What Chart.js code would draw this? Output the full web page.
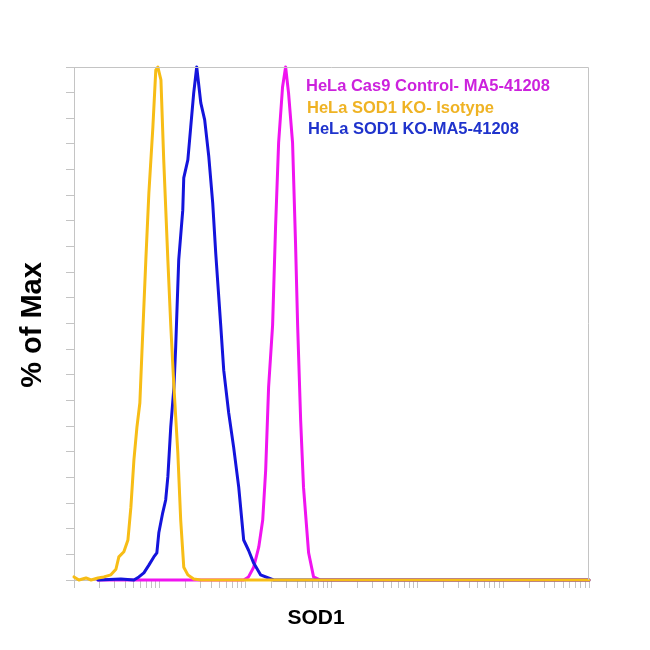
<!DOCTYPE html>
<html>
<head>
<meta charset="utf-8">
<script src="https://cdn.jsdelivr.net/npm/chart.js@4/dist/chart.umd.min.js"></script>
<style>
  html, body { margin: 0; padding: 0; background: #fff; }
  #wrap { width: 650px; height: 650px; }
</style>
</head>
<body>
<div id="wrap"><canvas id="c1" width="650" height="650"></canvas></div>
<script>
// histogram traces (SOD1 intensity, % of max)
const yellowX = [1, 1.14, 1.38, 1.58, 1.9, 2.23, 2.69, 3.08, 3.33, 3.81, 4.25, 4.6, 4.99, 5.41, 5.85, 6.18, 6.87, 7.45, 8.3, 8.97, 9.48, 10.3, 11.1, 12.4, 13.4, 14.6, 16.2, 17.5, 19.0, 21.2, 24.8, 30, 1e6];
const yellowY = [0.6, 0, 0.4, 0, 0.4, 0.6, 1.0, 2.1, 4.5, 5.5, 7.8, 14.2, 23.4, 29.8, 34.5, 44.2, 62.4, 75.4, 88.3, 99.4, 100, 97.5, 81.9, 62.4, 49.7, 37.6, 24.8, 11.7, 2.5, 1.0, 0.2, 0, 0];

const blueX = [1.9, 3.52, 4.99, 5.7, 6.52, 7.45, 8.51, 9.23, 9.73, 10.8, 11.7, 12.4, 13.4, 14.6, 15.3, 16.6, 18.5, 19.0, 21.2, 22.9, 24.8, 26.9, 30, 33.3, 37.2, 41.3, 44.8, 51.2, 55.5, 63.4, 72.4, 83, 94.8, 108, 124, 149, 212, 1e6];
const blueY = [0, 0.2, 0, 0.6, 1.4, 2.9, 4.5, 5.3, 9.2, 13.1, 15.6, 20.1, 29.8, 37.6, 45.4, 62.4, 72.1, 78.4, 81.9, 88.3, 94.9, 100, 93, 89.7, 82.5, 73.5, 63.7, 49.7, 40.9, 32.6, 25.9, 18.1, 7.8, 5.8, 3.3, 1.0, 0, 0];

const magentaX = [1.9, 94.8, 108, 124, 142, 158, 171, 185, 206, 223, 242, 269, 292, 316, 352, 381, 403, 437, 472, 541, 618, 745, 1e6];
const magentaY = [0, 0, 0.6, 2.5, 6.4, 11.7, 21.4, 37.6, 49.7, 68.8, 85.2, 96.1, 100, 94.9, 85.2, 65.7, 49.7, 31.2, 18.1, 5.3, 0.6, 0, 0];

const seriesNames = ['HeLa Cas9 Control- MA5-41208', 'HeLa SOD1 KO- Isotype', 'HeLa SOD1 KO-MA5-41208'];
const xDecades = [1, 10, 100, 1000, 10000, 100000, 1000000];
const minorSteps = [2, 3, 4, 5, 6, 7, 8, 9];
const yTickStep = 5;

const FONT = '"Liberation Sans", Arial, sans-serif';
const GREY = '#c4c4c4';

const pts = (xs, ys) => xs.map((x, i) => ({ x: x, y: ys[i] }));

// frame, axis titles and the text legend
const decor = {
  id: 'decor',
  afterDraw(chart) {
    const ctx = chart.ctx;
    const a = chart.chartArea;
    ctx.save();
    ctx.strokeStyle = GREY;
    ctx.lineWidth = 1;
    ctx.beginPath();
    ctx.moveTo(a.left, a.top + 0.5);
    ctx.lineTo(a.right - 0.5, a.top + 0.5);
    ctx.lineTo(a.right - 0.5, a.bottom);
    ctx.stroke();

    ctx.fillStyle = '#000';
    ctx.font = 'bold 21px ' + FONT;
    ctx.textAlign = 'center';
    ctx.textBaseline = 'middle';
    ctx.fillText('SOD1', 316, 618);

    ctx.translate(33, 325);
    ctx.rotate(-Math.PI / 2);
    ctx.font = 'bold 29px ' + FONT;
    ctx.fillText('% of Max', 0, 0);
    ctx.restore();

    ctx.save();
    ctx.font = 'bold 16.5px ' + FONT;
    ctx.textAlign = 'left';
    ctx.textBaseline = 'alphabetic';
    const cols = ['#cc22dd', '#efb324', '#1f33cc'];
    const xs = [306, 307, 308];
    const ys = [91, 112.5, 133.5];
    seriesNames.forEach((t, i) => {
      ctx.fillStyle = cols[i];
      ctx.fillText(t, xs[i], ys[i]);
    });
    ctx.restore();
  }
};

new Chart(document.getElementById('c1').getContext('2d'), {
  type: 'line',
  data: {
    datasets: [
      { label: seriesNames[1], data: pts(yellowX, yellowY), borderColor: '#f7bd16' },
      { label: seriesNames[2], data: pts(blueX, blueY), borderColor: '#1414dc' },
      { label: seriesNames[0], data: pts(magentaX, magentaY), borderColor: '#f014f0' }
    ]
  },
  options: {
    responsive: false,
    animation: false,
    layout: { padding: { left: 66, top: 67, right: 61, bottom: 62 } },
    elements: {
      point: { radius: 0 },
      line: { borderWidth: 3, tension: 0, fill: false, borderJoinStyle: 'round', borderCapStyle: 'round' }
    },
    datasets: { line: { clip: false } },
    plugins: {
      legend: { display: false },
      tooltip: { enabled: false },
      title: { display: false }
    },
    scales: {
      x: {
        type: 'logarithmic',
        min: 1,
        max: 1e6,
        afterBuildTicks(scale) {
          const t = [];
          xDecades.forEach((d, i) => {
            t.push({ value: d, major: true });
            if (i < xDecades.length - 1) minorSteps.forEach(m => t.push({ value: d * m }));
          });
          scale.ticks = t;
        },
        ticks: { display: false },
        grid: { drawOnChartArea: false, drawTicks: true, tickLength: 8, tickColor: GREY },
        border: { color: GREY, width: 1 }
      },
      y: {
        min: 0,
        max: 100,
        ticks: { display: false, stepSize: yTickStep },
        grid: { drawOnChartArea: false, drawTicks: true, tickLength: 8, tickColor: GREY },
        border: { color: GREY, width: 1 }
      }
    }
  },
  plugins: [decor]
});
</script>
</body>
</html>
